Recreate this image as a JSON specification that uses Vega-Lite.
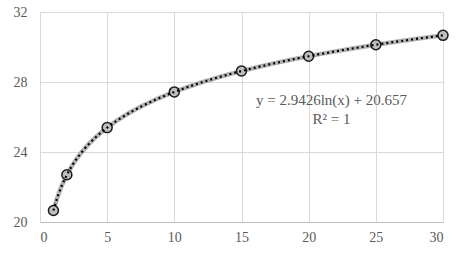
{
  "$schema": "https://vega.github.io/schema/vega-lite/v6.json",
  "width": 403,
  "height": 210,
  "autosize": {"type": "none"},
  "padding": {"left": 40, "top": 12, "right": 23, "bottom": 32},
  "background": "white",
  "config": {
    "view": {"stroke": null},
    "font": "Liberation Serif",
    "axis": {
      "labelFont": "Liberation Serif",
      "labelFontSize": 14,
      "labelColor": "#595959",
      "gridColor": "#d9d9d9",
      "gridWidth": 1,
      "ticks": false,
      "title": null
    }
  },
  "datasets": {
    "pts": [
      {"x": 1, "y": 20.657},
      {"x": 2, "y": 22.697},
      {"x": 5, "y": 25.393},
      {"x": 10, "y": 27.433},
      {"x": 15, "y": 28.626},
      {"x": 20, "y": 29.472},
      {"x": 25, "y": 30.129},
      {"x": 30, "y": 30.665}
    ],
    "label": [{"eq": "y = 2.9426ln(x) + 20.657", "r2": "R² = 1"}]
  },
  "layer": [
    {
      "data": {"name": "pts"},
      "transform": [{"regression": "y", "on": "x", "method": "log"}],
      "mark": {"type": "line", "color": "#b3b3b3", "strokeWidth": 4.5},
      "encoding": {
        "x": {
          "field": "x",
          "type": "quantitative",
          "scale": {"domain": [0, 30], "nice": false},
          "axis": {"values": [0, 5, 10, 15, 20, 25, 30], "domainColor": "#bfbfbf", "labelPadding": 8}
        },
        "y": {
          "field": "y",
          "type": "quantitative",
          "scale": {"domain": [20, 32], "nice": false, "zero": false},
          "axis": {"values": [20, 24, 28, 32], "domain": false, "labelPadding": 13}
        }
      }
    },
    {
      "data": {"name": "pts"},
      "mark": {"type": "point", "shape": "circle", "filled": false, "fill": "#bfbfbf", "fillOpacity": 1, "stroke": "#1a1a1a", "strokeWidth": 1.5, "opacity": 1, "size": 100},
      "encoding": {
        "x": {"field": "x", "type": "quantitative"},
        "y": {"field": "y", "type": "quantitative"}
      }
    },
    {
      "data": {"name": "pts"},
      "transform": [{"regression": "y", "on": "x", "method": "log"}],
      "mark": {"type": "line", "color": "#000000", "strokeWidth": 2.2, "strokeDash": [2, 3]},
      "encoding": {
        "x": {"field": "x", "type": "quantitative"},
        "y": {"field": "y", "type": "quantitative"}
      }
    },
    {
      "data": {"name": "label"},
      "mark": {"type": "text", "font": "Liberation Serif", "fontSize": 15, "color": "#595959", "align": "center", "baseline": "middle"},
      "encoding": {
        "text": {"field": "eq"},
        "x": {"datum": 21.7},
        "y": {"datum": 27.0}
      }
    },
    {
      "data": {"name": "label"},
      "mark": {"type": "text", "font": "Liberation Serif", "fontSize": 15, "color": "#595959", "align": "center", "baseline": "middle"},
      "encoding": {
        "text": {"field": "r2"},
        "x": {"datum": 21.7},
        "y": {"datum": 25.9}
      }
    }
  ]
}
